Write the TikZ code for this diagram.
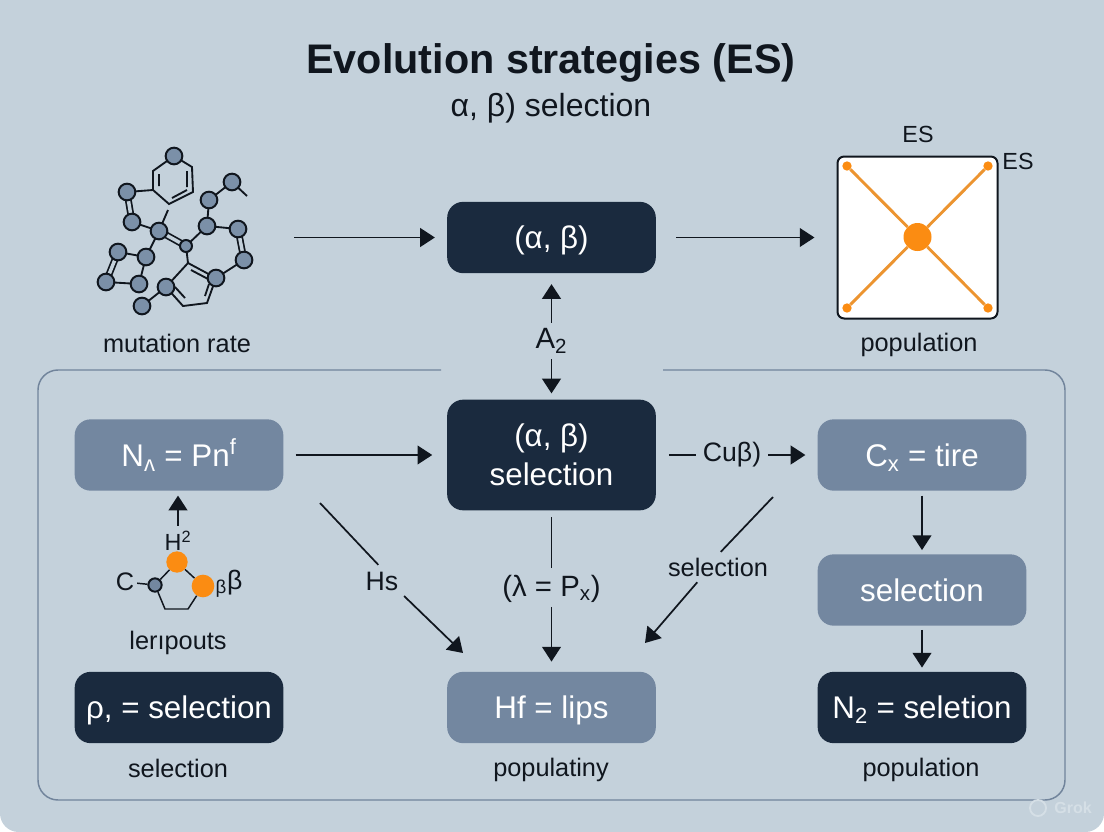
\documentclass[tikz,border=0pt]{standalone}
\usepackage{fontspec}
\setmainfont{Liberation Sans}
\usetikzlibrary{positioning, shapes.geometric, arrows.meta, calc}
\definecolor{esback}{HTML}{C4D1DB}
\definecolor{esdark}{HTML}{1A2A3E}
\definecolor{esmid}{HTML}{7387A0}
\definecolor{esink}{HTML}{10161E}
\definecolor{esorange}{HTML}{FB8C12}
\definecolor{esline}{HTML}{EC9430}
\definecolor{esframe}{HTML}{71849B}
\definecolor{esatom}{HTML}{7B90A8}
\definecolor{esmark}{HTML}{D5DFE6}
\tikzset{
  darkbox/.style={fill=esdark, text=white, rounded corners=12pt, minimum width=156.5pt, minimum height=53.5pt, align=center, inner sep=0pt, text height=20pt, text depth=3.2pt, font=\fontsize{23.5}{29}\selectfont},
  midbox/.style={darkbox, fill=esmid},
  lab/.style={text=esink, inner sep=2pt, font=\fontsize{19}{23}\selectfont},
  flow/.style={-{Triangle[length=11pt,width=14pt]}, line width=1.3pt, color=esink, shorten >=7.5pt, shorten <=7.5pt},
  flat/.style={line width=1.3pt, color=esink, shorten >=7.5pt, shorten <=7.5pt},
  atom/.style={circle, draw=esink, fill=esatom, line width=1.5pt, inner sep=0pt, minimum size=12.5pt},
  bond/.style={line width=1.4pt, color=esink},
  dbond/.style={line width=1.3pt, color=esink, double=esback, double distance=2.6pt},
  hub/.style={circle, fill=esorange, inner sep=0pt, minimum size=#1}
}
\begin{document}
\begin{tikzpicture}[x=0.75pt, y=-0.75pt]
  \useasboundingbox (0,0) rectangle (1104,832);
  \fill[white] (0,0) rectangle (1104,832);
  \fill[esback, rounded corners=14pt] (0,-30) -- (1104,-30) -- (1104,832) -- (0,832) -- cycle;

  % frame
  \coordinate (fa) at (441,370);
  \coordinate (fb) at (663,370);
  \draw[esframe, line width=1.1pt, rounded corners=15pt] (fa) -- (38,370) -- (38,800) -- (1065,800) -- (1065,370) -- (fb);

  % title
  \node[text=esink, inner sep=0pt, font=\fontsize{31}{36}\selectfont\bfseries] (title) at (551,63) {Evolution strategies (ES)};
  \node[text=esink, inner sep=0pt, font=\fontsize{24}{28}\selectfont] (subtitle) at (551,108) {α, β) selection};

  % boxes
  \node[darkbox] (alpha) at (551.5,237.5) {(α, β)};
  \node[darkbox, minimum height=83pt, text height=, text depth=] (sel) at (551.5,455) {(α, β)\\selection};
  \node[midbox] (nbox) at (179,455) {N\textsubscript{ʌ} = Pn\textsuperscript{f}};
  \node[midbox] (cbox) at (922,455) {C\textsubscript{x} = tire};
  \node[midbox] (sbox) at (922,590) {selection};
  \node[darkbox] (nsel) at (922,707.5) {N\textsubscript{2} = seletion};
  \node[darkbox] (rho) at (179,707.5) {ρ, = selection};
  \node[midbox] (hf) at (551.5,707.5) {Hf = lips};

  % labels
  \node[lab] (lmut) at (177,343) {mutation rate};
  \node[lab] (lpop) at (919,345) {population};
  \node[lab, font=\fontsize{17.5}{21}\selectfont] (les) at (918,134) {ES};
  \node[lab, font=\fontsize{17.5}{21}\selectfont] (lesb) at (1018,161) {ES};
  \node[lab, font=\fontsize{22}{26}\selectfont] (la) at (551.5,341) {A\textsubscript{2}};
  \node[lab, font=\fontsize{20}{24}\selectfont] (lcu) at (732,455) {Cuβ)};
  \node[lab, font=\fontsize{20}{24}\selectfont] (lhs) at (382,581) {Hs};
  \node[lab, font=\fontsize{22}{26}\selectfont] (llam) at (551.5,589) {(λ = P\textsubscript{x})};
  \node[lab] (lsel) at (718,567) {selection};
  \node[lab, font=\fontsize{17.5}{21}\selectfont] (lh) at (178,541) {H\textsuperscript{2}};
  \node[lab] (lc) at (125,582) {C};
  \node[lab, font=\fontsize{20}{24}\selectfont] (lbeta) at (229,584) {\textsubscript{β}β};
  \node[lab] (lout) at (178,643) {lerıpouts};
  \node[lab] (ls) at (178,768) {selection};
  \node[lab] (lpy) at (551,770) {populatiny};
  \node[lab] (lpz) at (921,770) {population};
  \node[text=esmark, inner sep=0pt, font=\fontsize{12}{14}\selectfont\bfseries] (grok) at (1073,808) {Grok};
  \node[circle, draw=esmark, line width=1.4pt, inner sep=0pt, minimum size=12pt] (grokmark) at (1038,808) {};

  % molecule
  \foreach \n/\x/\y in {1/174/156, 2/127/192, 3/132/222, 4/159/231, 6/207/226, 7/209/200, 8/232/182, 9/238/229, 10/244/260, 11/216/278, 12/166/287, 13/142/306, 14/146/257, 15/118/252, 16/106/282, 17/139/284}
    \coordinate (c\n) at (\x,\y);
  \coordinate (c5) at (186,246);
  \coordinate (r1) at (153,171);
  \coordinate (r2) at (153,190);
  \coordinate (r3) at (169,204);
  \coordinate (r4) at (193,192);
  \coordinate (r5) at (192,167);
  \coordinate (r6) at (188,263);
  \coordinate (r7) at (207,303);
  \coordinate (r8) at (183,306);
  \coordinate (t1) at (247,196);
  \coordinate (t2) at (168,210);
  \draw[bond] (c1) -- (r1) -- (r2) -- (r3) -- (r4) -- (r5) -- (c1);
  \draw[bond] (r2) -- (c2);
  \draw[bond] (159,186) -- (159,174) (172,198) -- (187,190) (187,187) -- (187,171);
  \foreach \a/\b in {3/4, 4/14, 5/6, 6/7, 7/8, 6/9, 10/11, 12/13, 14/15, 14/17, 16/17}
    \draw[bond] (c\a) -- (c\b);
  \draw[bond] (c8) -- (t1);
  \draw[bond] (c4) -- (t2);
  \draw[dbond] (c2) -- (c3);
  \draw[dbond] (c4) -- (c5);
  \draw[dbond] (c9) -- (c10);
  \draw[dbond] (c15) -- (c16);
  \draw[bond] (c5) -- (r6) -- (c11) -- (r7) -- (r8) -- (c12) -- (r6);
  \draw[bond] (191,270) -- (208,279) (205,296) -- (209,284) (185,298) -- (175,287);
  \foreach \n in {1,2,3,4,6,7,8,9,10,11,12,13,14,15,16,17}
    \node[atom] (a\n) at (c\n) {};
  \node[atom, minimum size=9pt] (a5) at (c5) {};

  % small molecule
  \coordinate (s1) at (188,609);
  \coordinate (s2) at (165,609);
  \node[atom, fill=esmid, minimum size=10pt] (sa) at (155,585) {};
  \node[hub=16pt] (sb) at (177,562) {};
  \node[hub=17pt] (sc) at (203,586) {};
  \draw[bond, line width=1.1pt] (sa) -- (sb);
  \draw[bond, line width=1.1pt] (sb) -- (sc);
  \draw[bond, line width=1.1pt] (sc) -- (s1) -- (s2) -- (sa);
  \draw[bond, line width=1.1pt] (lc) -- (sa);

  % network square
  \node[draw=esink, fill=white, line width=1.5pt, rounded corners=5pt, minimum width=120pt, minimum height=121.5pt, inner sep=0pt] (net) at (917.5,237.5) {};
  \node[hub=7pt] (d1) at (847,166) {};
  \node[hub=7pt] (d2) at (988,166) {};
  \node[hub=7pt] (d3) at (847,308) {};
  \node[hub=7pt] (d4) at (988,308) {};
  \node[hub=21pt] (dm) at (917.5,237) {};
  \foreach \n in {1,2,3,4}
    \draw[esline, line width=2.2pt] (dm) -- (d\n);

  % arrows
  \coordinate (mol) at (284,237.5);
  \draw[flow, shorten >=9pt] (mol) -- (alpha);
  \draw[flow, shorten >=16.5pt, shorten <=15pt] (alpha) -- (net);
  \draw[flow, shorten >=8pt, shorten <=2pt] (la) -- (alpha);
  \draw[flow, shorten >=4.5pt, shorten <=2pt] (la) -- (sel);
  \draw[flow, shorten >=11pt, shorten <=9pt] (nbox) -- (sel);
  \draw[flat, shorten >=3pt, shorten <=9.5pt] (sel) -- (lcu);
  \draw[flow, shorten <=3pt, shorten >=9pt] (lcu) -- (cbox);
  \draw[flow, shorten >=3pt, shorten <=3.5pt] (cbox) -- (sbox);
  \draw[flow, shorten >=3pt, shorten <=3pt] (sbox) -- (nsel);
  \draw[flow, shorten >=3.5pt, shorten <=2pt] (lh) -- (lh |- nbox.south);
  \draw[flat, shorten <=5pt, shorten >=3pt] (sel) -- (llam);
  \draw[flow, shorten <=1pt, shorten >=7.5pt] (llam) -- (hf);

  % diagonals
  \coordinate (hsin) at (320,503);
  \coordinate (hstip) at (463,653);
  \coordinate (seln) at (773,497);
  \coordinate (seltip) at (645,643);
  \draw[flat, shorten <=0pt, shorten >=4pt] (hsin) -- (lhs.north);
  \draw[flow, shorten <=3pt, shorten >=0pt] (lhs.south east) -- (hstip);
  \draw[flat, shorten <=0pt, shorten >=3pt] (seln) -- (lsel.north);
  \draw[flow, shorten <=3pt, shorten >=0pt] (lsel.214) -- (seltip);
\end{tikzpicture}
\end{document}
